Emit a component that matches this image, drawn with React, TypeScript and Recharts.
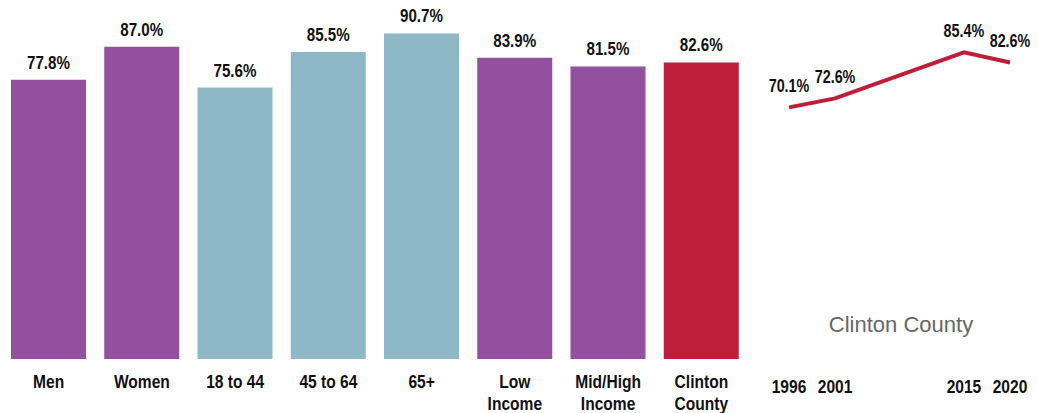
import * as React from 'react';
import { Bar, BarChart, Cell, LabelList, Line, LineChart, XAxis, YAxis } from 'recharts';

const categories = ['Men', 'Women', '18 to 44', '45 to 64', '65+', 'Low\nIncome', 'Mid/High\nIncome', 'Clinton\nCounty'];
const groupValues = [77.8, 87.0, 75.6, 85.5, 90.7, 83.9, 81.5, 82.6];
const groupColors = ['#92509E', '#92509E', '#8FB8C7', '#8FB8C7', '#8FB8C7', '#92509E', '#92509E', '#BE1E3A'];

const years = [1996, 2001, 2015, 2020];
const trendValues = [70.1, 72.6, 85.4, 82.6];

const barData = categories.map((name, i) => ({ name, value: groupValues[i], color: groupColors[i] }));
const lineData = years.map((year, i) => ({ year, value: trendValues[i] }));

const font = "'Liberation Sans', Arial, sans-serif";
const ink = '#111';
const squeeze = 0.82; // no narrow font installed, so condense bold sans by hand

const fmt = (v: unknown) => `${Number(v).toFixed(1)}%`;

function NarrowText({ x, y, size, children }: { x: number; y: number; size: number; children: React.ReactNode }) {
  return (
    <text transform={`translate(${x},${y}) scale(${squeeze},1)`} x={0} y={0} textAnchor="middle" fontFamily={font} fontWeight="bold" fontSize={size} fill={ink}>
      {children}
    </text>
  );
}

function CategoryTick({ x, y, payload }: any) {
  const lines = String(payload.value).split('\n');
  return (
    <g>
      {lines.map((line, i) => (
        <NarrowText key={i} x={x} y={y + 29 + i * 22} size={19}>
          {line}
        </NarrowText>
      ))}
    </g>
  );
}

function YearTick({ x, y, payload }: any) {
  return (
    <NarrowText x={x} y={y + 34} size={19}>
      {payload.value}
    </NarrowText>
  );
}

const valueLabel = (gap: number, size: number) => (props: any) => {
  const vb = props.viewBox || {};
  const cx = (vb.x ?? props.x) + (vb.width ?? 0) / 2;
  const top = vb.y ?? props.y;
  return (
    <NarrowText x={cx} y={top - gap} size={size}>
      {fmt(props.value)}
    </NarrowText>
  );
};

export default function App() {
  return (
    <div style={{ position: 'absolute', left: 0, top: 0, width: 1038, height: 413, background: '#fff' }}>
      <div style={{ position: 'absolute', left: 0, top: 0 }}>
        <BarChart width={750} height={413} data={barData} margin={{ top: 0, right: 2, bottom: 0, left: 2 }}>
          <YAxis hide domain={[0, 100]} />
          <XAxis dataKey="name" axisLine={false} tickLine={false} tickSize={0} tickMargin={0} height={54} interval={0} tick={<CategoryTick />} />
          <Bar dataKey="value" barSize={75} isAnimationActive={false}>
            {barData.map((d, i) => (
              <Cell key={i} fill={d.color} />
            ))}
            <LabelList dataKey="value" content={valueLabel(11, 18.5)} />
          </Bar>
        </BarChart>
      </div>
      <div style={{ position: 'absolute', left: 740, top: 0 }}>
        <LineChart width={298} height={413} data={lineData} margin={{ top: 0, right: 28, bottom: 0, left: 49 }}>
          <YAxis hide domain={[0, 100]} />
          <XAxis dataKey="year" type="number" domain={[1996, 2020]} ticks={years} axisLine={false} tickLine={false} tickSize={0} tickMargin={0} height={54} interval={0} tick={<YearTick />} />
          <Line type="linear" dataKey="value" stroke="#BE1E3A" strokeWidth={4} dot={false} isAnimationActive={false}>
            <LabelList dataKey="value" content={valueLabel(15, 17.5)} />
          </Line>
        </LineChart>
      </div>
      <div style={{ position: 'absolute', left: 801, top: 314, width: 200, textAlign: 'center', fontFamily: font, fontSize: 22, lineHeight: '22px', color: '#666' }}>
        Clinton County
      </div>
    </div>
  );
}
